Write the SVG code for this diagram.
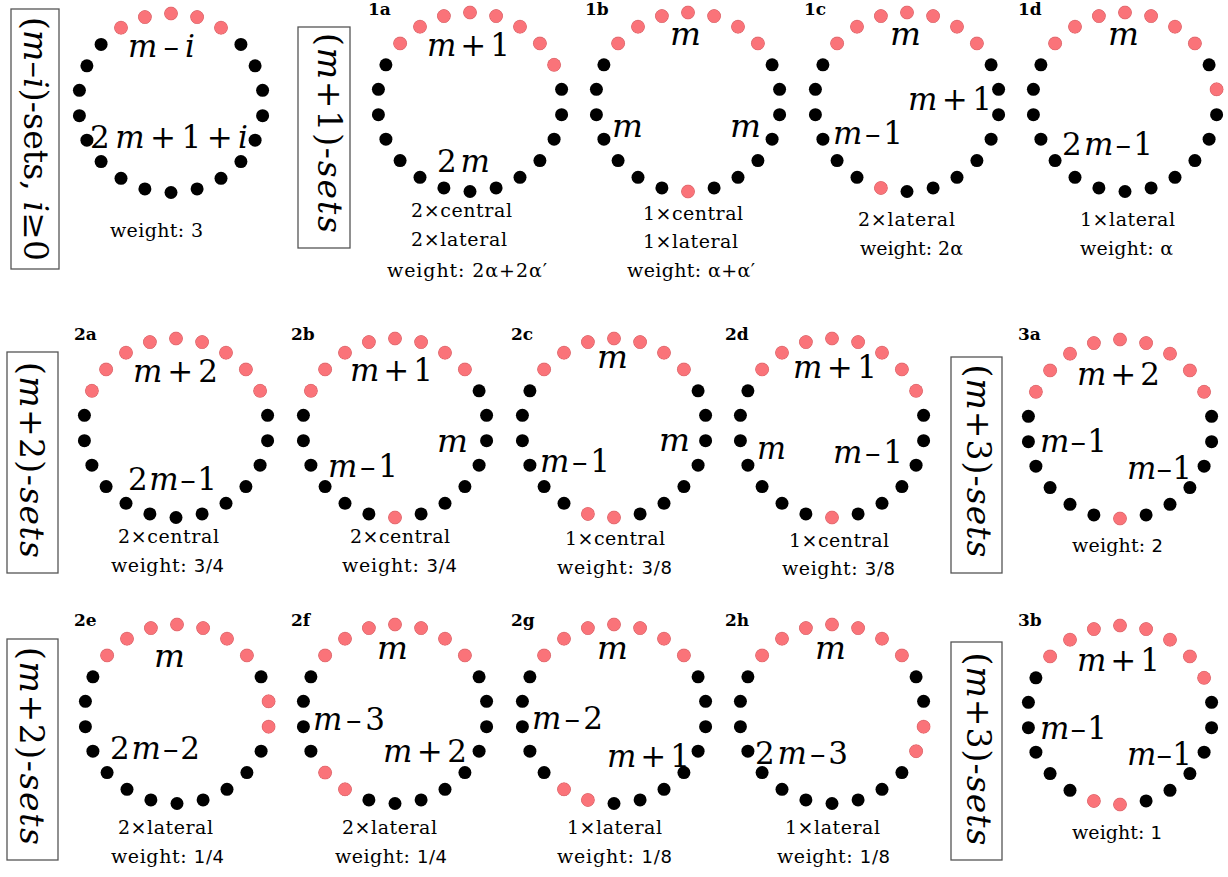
<svg xmlns="http://www.w3.org/2000/svg" width="1228" height="877" viewBox="0 0 1228 877">
<style>
.lab{font-family:"DejaVu Serif","Liberation Serif",serif;font-size:31px;fill:#000}
.i{font-style:italic}
.sub{font-family:"DejaVu Serif","Liberation Serif",serif;font-size:19px;fill:#000}
.sf{font-family:"DejaVu Sans","Liberation Sans",sans-serif;font-size:18px}
.tag{font-family:"DejaVu Serif","Liberation Serif",serif;font-size:17px;font-weight:bold;fill:#000}
.box{fill:none;stroke:#555;stroke-width:1.3}
.bt{font-family:"DejaVu Serif","Liberation Serif",serif;font-size:33px;fill:#000}
.red{fill:#fa7379;stroke:#fa7379;stroke-width:0.7}
</style>
<defs>
<circle id="p0" cx="0" cy="-89.5" r="6.5"/>
<circle id="p1" cx="26.1" cy="-85.9" r="6.5"/>
<circle id="p2" cx="50" cy="-75.3" r="6.5"/>
<circle id="p3" cx="69.9" cy="-58.6" r="6.5"/>
<circle id="p4" cx="84.1" cy="-37.2" r="6.5"/>
<circle id="p5" cx="91.6" cy="-12.7" r="6.5"/>
<circle id="p6" cx="91.6" cy="12.7" r="6.5"/>
<circle id="p7" cx="84.1" cy="37.2" r="6.5"/>
<circle id="p8" cx="69.9" cy="58.6" r="6.5"/>
<circle id="p9" cx="50" cy="75.3" r="6.5"/>
<circle id="p10" cx="26.1" cy="85.9" r="6.5"/>
<circle id="p11" cx="0" cy="89.5" r="6.5"/>
<circle id="p12" cx="-26.1" cy="85.9" r="6.5"/>
<circle id="p13" cx="-50" cy="75.3" r="6.5"/>
<circle id="p14" cx="-69.9" cy="58.6" r="6.5"/>
<circle id="p15" cx="-84.1" cy="37.2" r="6.5"/>
<circle id="p16" cx="-91.6" cy="12.7" r="6.5"/>
<circle id="p17" cx="-91.6" cy="-12.7" r="6.5"/>
<circle id="p18" cx="-84.1" cy="-37.2" r="6.5"/>
<circle id="p19" cx="-69.9" cy="-58.6" r="6.5"/>
<circle id="p20" cx="-50" cy="-75.3" r="6.5"/>
<circle id="p21" cx="-26.1" cy="-85.9" r="6.5"/>
<g id="ring">
<use href="#p0"/><use href="#p1"/><use href="#p2"/><use href="#p3"/><use href="#p4"/><use href="#p5"/><use href="#p6"/><use href="#p7"/><use href="#p8"/><use href="#p9"/><use href="#p10"/><use href="#p11"/><use href="#p12"/><use href="#p13"/><use href="#p14"/><use href="#p15"/><use href="#p16"/><use href="#p17"/><use href="#p18"/><use href="#p19"/><use href="#p20"/><use href="#p21"/>
</g>
<g id="top7"><use href="#p19"/><use href="#p20"/><use href="#p21"/><use href="#p0"/><use href="#p1"/><use href="#p2"/><use href="#p3"/></g>
</defs>
<rect width="1228" height="877" fill="#fff"/>

<!-- boxed row labels -->
<g id="label-mi">
<rect class="box" x="11" y="9" width="48" height="260"/>
<text class="bt" transform="translate(24,139) rotate(90)" text-anchor="middle" textLength="244">(<tspan class="i">m</tspan>–<tspan class="i">i</tspan>)-sets, <tspan class="i">i</tspan>≥0</text>
</g>
<g id="label-m1">
<rect class="box" x="298" y="27" width="52" height="221"/>
<text class="bt" transform="translate(318,133) rotate(90)" text-anchor="middle" textLength="200">(<tspan class="i">m</tspan>+1)-<tspan class="i">sets</tspan></text>
</g>
<g id="label-m2a">
<rect class="box" x="7" y="352" width="51" height="221"/>
<text class="bt" transform="translate(20,460) rotate(90)" text-anchor="middle" textLength="196">(<tspan class="i">m</tspan>+2)-<tspan class="i">sets</tspan></text>
</g>
<g id="label-m3a">
<rect class="box" x="951" y="357" width="51" height="216"/>
<text class="bt" transform="translate(967,461) rotate(90)" text-anchor="middle" textLength="193">(<tspan class="i">m</tspan>+3)-<tspan class="i">sets</tspan></text>
</g>
<g id="label-m2b">
<rect class="box" x="7" y="639" width="51" height="221"/>
<text class="bt" transform="translate(20,746) rotate(90)" text-anchor="middle" textLength="198">(<tspan class="i">m</tspan>+2)-<tspan class="i">sets</tspan></text>
</g>
<g id="label-m3b">
<rect class="box" x="951" y="642" width="51" height="218"/>
<text class="bt" transform="translate(967,749) rotate(90)" text-anchor="middle" textLength="193">(<tspan class="i">m</tspan>+3)-<tspan class="i">sets</tspan></text>
</g>

<!-- panel 0 -->
<g id="panel-0">
<g transform="translate(171,103)"><use href="#ring" fill="#000"/><g class="red"><use href="#p20"/><use href="#p21"/><use href="#p0"/><use href="#p1"/><use href="#p2"/></g></g>
<text class="lab" x="128" y="57" textLength="67"><tspan class="i">m</tspan>–<tspan class="i">i</tspan></text>
<text class="lab" x="90" y="148" textLength="158">2<tspan class="i">m</tspan>+1+<tspan class="i">i</tspan></text>
<text class="sub" x="110" y="237" textLength="93">weight: 3</text>
</g>

<!-- 1a -->
<g id="panel-1a">
<text class="tag" x="368" y="15">1a</text>
<g transform="translate(470,102)"><use href="#ring" fill="#000"/><g class="red"><use href="#top7"/><use href="#p4"/></g></g>
<text class="lab" x="427" y="56" textLength="83"><tspan class="i">m</tspan>+1</text>
<text class="lab" x="437" y="172" textLength="53">2<tspan class="i">m</tspan></text>
<text class="sub" x="411" y="217" textLength="101">2×central</text>
<text class="sub" x="411" y="246" textLength="96">2×lateral</text>
<text class="sub" x="387" y="277" textLength="160">weight: 2α+2α′</text>
</g>

<!-- 1b -->
<g id="panel-1b">
<text class="tag" x="585" y="15">1b</text>
<g transform="translate(688,102)"><use href="#ring" fill="#000"/><g class="red"><use href="#top7"/><use href="#p11"/></g></g>
<text class="lab i" x="670" y="45" textLength="31" lengthAdjust="spacingAndGlyphs">m</text>
<text class="lab i" x="612" y="137" textLength="31" lengthAdjust="spacingAndGlyphs">m</text>
<text class="lab i" x="730" y="137" textLength="31" lengthAdjust="spacingAndGlyphs">m</text>
<text class="sub" x="643" y="220" textLength="100">1×central</text>
<text class="sub" x="643" y="248" textLength="95">1×lateral</text>
<text class="sub" x="627" y="277" textLength="128">weight: α+α′</text>
</g>

<!-- 1c -->
<g id="panel-1c">
<text class="tag" x="804" y="15">1c</text>
<g transform="translate(907,102)"><use href="#ring" fill="#000"/><g class="red"><use href="#top7"/><use href="#p12"/></g></g>
<text class="lab i" x="890" y="45" textLength="31" lengthAdjust="spacingAndGlyphs">m</text>
<text class="lab" x="908" y="110" textLength="84"><tspan class="i">m</tspan>+1</text>
<text class="lab" x="833" y="144" textLength="70"><tspan class="i">m</tspan>–1</text>
<text class="sub" x="858" y="226" textLength="97">2×lateral</text>
<text class="sub" x="860" y="255" textLength="103">weight: 2α</text>
</g>

<!-- 1d -->
<g id="panel-1d">
<text class="tag" x="1018" y="15">1d</text>
<g transform="translate(1125,102)"><use href="#ring" fill="#000"/><g class="red"><use href="#top7"/><use href="#p5"/></g></g>
<text class="lab i" x="1108" y="45" textLength="31" lengthAdjust="spacingAndGlyphs">m</text>
<text class="lab" x="1062" y="155" textLength="91">2<tspan class="i">m</tspan>–1</text>
<text class="sub" x="1080" y="226" textLength="95">1×lateral</text>
<text class="sub" x="1080" y="255" textLength="93">weight: α</text>
</g>

<!-- 2a -->
<g id="panel-2a">
<text class="tag" x="74" y="340">2a</text>
<g transform="translate(176,428)"><use href="#ring" fill="#000"/><g class="red"><use href="#p18"/><use href="#top7"/><use href="#p4"/></g></g>
<text class="lab" x="133" y="382" textLength="85"><tspan class="i">m</tspan>+2</text>
<text class="lab" x="128" y="490" textLength="89">2<tspan class="i">m</tspan>–1</text>
<text class="sub" x="118" y="543" textLength="101">2×central</text>
<text class="sub" x="111" y="572" textLength="113">weight: <tspan class="sf">3/4</tspan></text>
</g>

<!-- 2b -->
<g id="panel-2b">
<text class="tag" x="291" y="340">2b</text>
<g transform="translate(395,428)"><use href="#ring" fill="#000"/><g class="red"><use href="#p18"/><use href="#top7"/><use href="#p11"/></g></g>
<text class="lab" x="350" y="381" textLength="83"><tspan class="i">m</tspan>+1</text>
<text class="lab" x="328" y="477" textLength="70"><tspan class="i">m</tspan>–1</text>
<text class="lab i" x="437" y="452" textLength="31" lengthAdjust="spacingAndGlyphs">m</text>
<text class="sub" x="350" y="543" textLength="100">2×central</text>
<text class="sub" x="342" y="572" textLength="115">weight: <tspan class="sf">3/4</tspan></text>
</g>

<!-- 2c -->
<g id="panel-2c">
<text class="tag" x="511" y="340">2c</text>
<g transform="translate(614,428)"><use href="#ring" fill="#000"/><g class="red"><use href="#top7"/><use href="#p11"/><use href="#p12"/></g></g>
<text class="lab i" x="597" y="368" textLength="31" lengthAdjust="spacingAndGlyphs">m</text>
<text class="lab" x="540" y="472" textLength="70"><tspan class="i">m</tspan>–1</text>
<text class="lab i" x="659" y="451" textLength="31" lengthAdjust="spacingAndGlyphs">m</text>
<text class="sub" x="565" y="545" textLength="100">1×central</text>
<text class="sub" x="557" y="574" textLength="115">weight: <tspan class="sf">3/8</tspan></text>
</g>

<!-- 2d -->
<g id="panel-2d">
<text class="tag" x="725" y="340">2d</text>
<g transform="translate(832,428)"><use href="#ring" fill="#000"/><g class="red"><use href="#top7"/><use href="#p4"/><use href="#p11"/></g></g>
<text class="lab" x="793" y="378" textLength="84"><tspan class="i">m</tspan>+1</text>
<text class="lab i" x="757" y="459" textLength="29" lengthAdjust="spacingAndGlyphs">m</text>
<text class="lab" x="833" y="463" textLength="70"><tspan class="i">m</tspan>–1</text>
<text class="sub" x="789" y="547" textLength="100">1×central</text>
<text class="sub" x="782" y="575" textLength="113">weight: <tspan class="sf">3/8</tspan></text>
</g>

<!-- 3a -->
<g id="panel-3a">
<text class="tag" x="1018" y="340">3a</text>
<g transform="translate(1120,429)"><use href="#ring" fill="#000"/><g class="red"><use href="#p18"/><use href="#top7"/><use href="#p4"/><use href="#p11"/></g></g>
<text class="lab" x="1077" y="385" textLength="83"><tspan class="i">m</tspan>+2</text>
<text class="lab" x="1040" y="452" textLength="67"><tspan class="i">m</tspan>–1</text>
<text class="lab" x="1127" y="479" textLength="65"><tspan class="i">m</tspan>–1</text>
<text class="sub" x="1072" y="552" textLength="91">weight: <tspan class="sf">2</tspan></text>
</g>

<!-- 2e -->
<g id="panel-2e">
<text class="tag" x="74" y="626">2e</text>
<g transform="translate(177,714)"><use href="#ring" fill="#000"/><g class="red"><use href="#top7"/><use href="#p5"/><use href="#p6"/></g></g>
<text class="lab i" x="154" y="667" textLength="31" lengthAdjust="spacingAndGlyphs">m</text>
<text class="lab" x="110" y="759" textLength="90">2<tspan class="i">m</tspan>–2</text>
<text class="sub" x="118" y="834" textLength="95">2×lateral</text>
<text class="sub" x="111" y="863" textLength="113">weight: <tspan class="sf">1/4</tspan></text>
</g>

<!-- 2f -->
<g id="panel-2f">
<text class="tag" x="291" y="626">2f</text>
<g transform="translate(395,714)"><use href="#ring" fill="#000"/><g class="red"><use href="#top7"/><use href="#p13"/><use href="#p14"/></g></g>
<text class="lab i" x="377" y="659" textLength="31" lengthAdjust="spacingAndGlyphs">m</text>
<text class="lab" x="313" y="730" textLength="72"><tspan class="i">m</tspan>–3</text>
<text class="lab" x="383" y="762" textLength="84"><tspan class="i">m</tspan>+2</text>
<text class="sub" x="342" y="834" textLength="95">2×lateral</text>
<text class="sub" x="335" y="863" textLength="112">weight: <tspan class="sf">1/4</tspan></text>
</g>

<!-- 2g -->
<g id="panel-2g">
<text class="tag" x="511" y="626">2g</text>
<g transform="translate(614,714)"><use href="#ring" fill="#000"/><g class="red"><use href="#top7"/><use href="#p12"/><use href="#p13"/></g></g>
<text class="lab i" x="597" y="659" textLength="31" lengthAdjust="spacingAndGlyphs">m</text>
<text class="lab" x="532" y="729" textLength="71"><tspan class="i">m</tspan>–2</text>
<text class="lab" x="607" y="767" textLength="83"><tspan class="i">m</tspan>+1</text>
<text class="sub" x="567" y="834" textLength="95">1×lateral</text>
<text class="sub" x="557" y="863" textLength="115">weight: <tspan class="sf">1/8</tspan></text>
</g>

<!-- 2h -->
<g id="panel-2h">
<text class="tag" x="725" y="626">2h</text>
<g transform="translate(832,714)"><use href="#ring" fill="#000"/><g class="red"><use href="#top7"/><use href="#p6"/><use href="#p7"/></g></g>
<text class="lab i" x="815" y="659" textLength="31" lengthAdjust="spacingAndGlyphs">m</text>
<text class="lab" x="755" y="764" textLength="93">2<tspan class="i">m</tspan>–3</text>
<text class="sub" x="785" y="834" textLength="95">1×lateral</text>
<text class="sub" x="777" y="863" textLength="113">weight: <tspan class="sf">1/8</tspan></text>
</g>

<!-- 3b -->
<g id="panel-3b">
<text class="tag" x="1018" y="626">3b</text>
<g transform="translate(1120,715)"><use href="#ring" fill="#000"/><g class="red"><use href="#top7"/><use href="#p4"/><use href="#p11"/><use href="#p12"/></g></g>
<text class="lab" x="1077" y="671" textLength="83"><tspan class="i">m</tspan>+1</text>
<text class="lab" x="1040" y="739" textLength="67"><tspan class="i">m</tspan>–1</text>
<text class="lab" x="1127" y="765" textLength="65"><tspan class="i">m</tspan>–1</text>
<text class="sub" x="1072" y="839" textLength="90">weight: <tspan class="sf">1</tspan></text>
</g>
</svg>
